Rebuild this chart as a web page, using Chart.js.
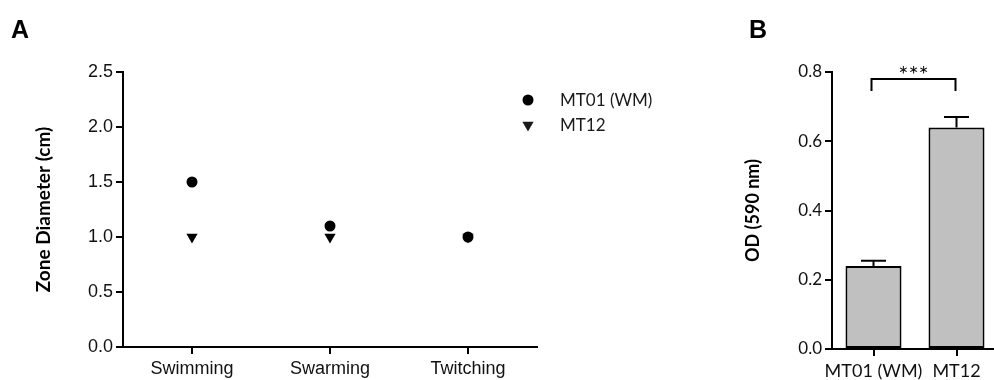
<!DOCTYPE html>
<html>
<head>
<meta charset="utf-8">
<script src="https://cdn.jsdelivr.net/npm/chart.js@4.4.1/dist/chart.umd.min.js"></script>
<style>
  html, body { margin: 0; padding: 0; background: #fff; overflow: hidden; }
  body { width: 994px; height: 380px; position: relative; }
  .panel { position: absolute; top: 0; height: 380px; }
  #panelA { left: 0; width: 660px; }
  #panelB { left: 660px; width: 340px; }
</style>
</head>
<body>
<div class="panel" id="panelA"><canvas id="chartA"></canvas></div>
<div class="panel" id="panelB"><canvas id="chartB"></canvas></div>
<script>
// Panel A: motility zone diameters
const motilityTypes = ['Swimming', 'Swarming', 'Twitching'];
const mt01Diameter = [1.5, 1.1, 1.0];
const mt12Diameter = [1.0, 1.0, 1.0];

// Panel B: biofilm OD (590 nm), mean and upper error
const strains = ['MT01 (WM)', 'MT12'];
const odMean = [0.24, 0.64];
const odError = [0.015, 0.03];
const significanceMark = '***';

const AXIS = '#000';
const sans = "'Liberation Sans', Arial, sans-serif";
const humanist = "Lato, 'Open Sans', sans-serif";

// Panel letter
function panelLetter(letter, x, y) {
  return {
    id: 'panelLetter',
    afterDraw(chart) {
      const ctx = chart.ctx;
      ctx.save();
      ctx.fillStyle = '#000';
      ctx.font = "bold 25px " + sans;
      ctx.textBaseline = 'alphabetic';
      ctx.textAlign = 'left';
      ctx.fillText(letter, x, y);
      ctx.restore();
    }
  };
}

// Legend drawn inside the top-right of panel A, using each dataset's marker style
const markerLegend = {
  id: 'markerLegend',
  afterDraw(chart) {
    const ctx = chart.ctx;
    const area = chart.chartArea;
    const x0 = area.right - 9;
    const y0 = area.top + 28;
    ctx.save();
    chart.data.datasets.forEach((ds, i) => {
      const y = y0 + i * 25;
      Chart.helpers.drawPoint(ctx, {
        pointStyle: ds.pointStyle,
        radius: ds.pointRadius,
        rotation: ds.pointRotation || 0,
        borderWidth: 0
      }, x0, y);
      ctx.fillStyle = '#1a1a1a';
      ctx.font = "17px " + humanist;
      ctx.textAlign = 'left';
      ctx.textBaseline = 'middle';
      ctx.fillText(ds.label, x0 + 32, y + 1);
    });
    ctx.restore();
  }
};

function fixedWidth(w) { return (scale) => { scale.width = w; }; }
function fixedHeight(h) { return (scale) => { scale.height = h; }; }

const chartA = new Chart(document.getElementById('chartA'), {
  type: 'line',
  data: {
    labels: motilityTypes,
    datasets: [
      {
        label: 'MT01 (WM)',
        data: mt01Diameter,
        showLine: false,
        pointStyle: 'circle',
        pointRadius: 5.5,
        pointHoverRadius: 5.5,
        pointBackgroundColor: '#000',
        pointBorderColor: '#000',
        pointBorderWidth: 0,
        backgroundColor: '#000',
        borderColor: '#000'
      },
      {
        label: 'MT12',
        data: mt12Diameter,
        showLine: false,
        pointStyle: 'triangle',
        pointRotation: 180,
        pointRadius: 6.5,
        pointHoverRadius: 6.5,
        pointBackgroundColor: '#000',
        pointBorderColor: '#000',
        pointBorderWidth: 0,
        backgroundColor: '#000',
        borderColor: '#000'
      }
    ]
  },
  options: {
    responsive: true,
    maintainAspectRatio: false,
    animation: false,
    layout: { padding: { left: 28, top: 72, right: 123, bottom: 0 } },
    plugins: { legend: { display: false }, tooltip: { enabled: false } },
    scales: {
      x: {
        type: 'category',
        offset: true,
        afterFit: fixedHeight(33),
        grid: { display: true, drawOnChartArea: false, drawTicks: true, tickLength: 7, color: AXIS, lineWidth: 2, offset: false },
        border: { display: true, color: AXIS, width: 2 },
        ticks: { color: '#111', font: { family: sans, size: 18 }, padding: 4, maxRotation: 0, autoSkip: false }
      },
      y: {
        min: 0,
        max: 2.5,
        afterFit: fixedWidth(95),
        grid: { display: true, drawOnChartArea: false, drawTicks: true, tickLength: 7, color: AXIS, lineWidth: 2 },
        border: { display: true, color: AXIS, width: 2 },
        ticks: { stepSize: 0.5, color: '#111', font: { family: sans, size: 18 }, padding: 3, callback: v => Number(v).toFixed(1) },
        title: { display: true, text: 'Zone Diameter (cm)', color: '#000', font: { family: humanist, size: 19, weight: 'bold' }, padding: { top: 4, bottom: 4 } }
      }
    }
  },
  plugins: [markerLegend, panelLetter('A', 11, 38)]
});

// Upward error bars and significance bracket for panel B
const barAnnotations = {
  id: 'barAnnotations',
  afterDatasetsDraw(chart) {
    const ctx = chart.ctx;
    const xs = chart.scales.x;
    const ys = chart.scales.y;
    ctx.save();
    ctx.strokeStyle = '#000';
    ctx.lineWidth = 2;
    odMean.forEach((m, i) => {
      const x = xs.getPixelForValue(i);
      const yTop = ys.getPixelForValue(m);
      const yErr = ys.getPixelForValue(m + odError[i]);
      ctx.beginPath();
      ctx.moveTo(x, yTop);
      ctx.lineTo(x, yErr);
      ctx.moveTo(x - 12.5, yErr);
      ctx.lineTo(x + 12.5, yErr);
      ctx.stroke();
    });
    // bracket between the two strains
    const x1 = xs.getPixelForValue(0) - 2;
    const x2 = xs.getPixelForValue(1) - 1;
    const yb = ys.getPixelForValue(0.78);
    const yl = ys.getPixelForValue(0.745);
    ctx.lineWidth = 2;
    ctx.beginPath();
    ctx.moveTo(x1, yl);
    ctx.lineTo(x1, yb);
    ctx.lineTo(x2, yb);
    ctx.lineTo(x2, yl);
    ctx.stroke();
    ctx.fillStyle = '#111';
    ctx.font = "24px " + humanist;
    ctx.textAlign = 'center';
    ctx.textBaseline = 'middle';
    ctx.fillText(significanceMark, (x1 + x2) / 2, ys.getPixelForValue(0.8) + 3);
    ctx.restore();
  }
};

const chartB = new Chart(document.getElementById('chartB'), {
  type: 'bar',
  data: {
    labels: strains,
    datasets: [{
      label: 'OD (590 nm)',
      data: odMean,
      backgroundColor: '#c0c0c0',
      borderColor: '#000',
      borderWidth: 2,
      borderSkipped: false,
      categoryPercentage: 1,
      barPercentage: 0.675
    }]
  },
  options: {
    responsive: true,
    maintainAspectRatio: false,
    animation: false,
    layout: { padding: { left: 78, top: 72, right: 2, bottom: 0 } },
    plugins: { legend: { display: false }, tooltip: { enabled: false } },
    scales: {
      x: {
        type: 'category',
        offset: true,
        afterFit: fixedHeight(31),
        grid: { display: true, drawOnChartArea: false, drawTicks: true, tickLength: 7, color: AXIS, lineWidth: 2, offset: false },
        border: { display: true, color: AXIS, width: 2 },
        ticks: { color: '#111', font: { family: humanist, size: 18 }, padding: 4, maxRotation: 0, autoSkip: false }
      },
      y: {
        min: 0,
        max: 0.8,
        afterFit: fixedWidth(94),
        grid: { display: true, drawOnChartArea: false, drawTicks: true, tickLength: 7, color: AXIS, lineWidth: 2 },
        border: { display: true, color: AXIS, width: 2 },
        ticks: { stepSize: 0.2, color: '#111', font: { family: humanist, size: 17 }, padding: 3, callback: v => Number(v).toFixed(1) },
        title: { display: true, text: 'OD (590 nm)', color: '#000', font: { family: humanist, size: 18, weight: 'bold' }, padding: { top: 4, bottom: 4 } }
      }
    }
  },
  plugins: [barAnnotations, panelLetter('B', 89, 38)]
});
</script>
</body>
</html>
